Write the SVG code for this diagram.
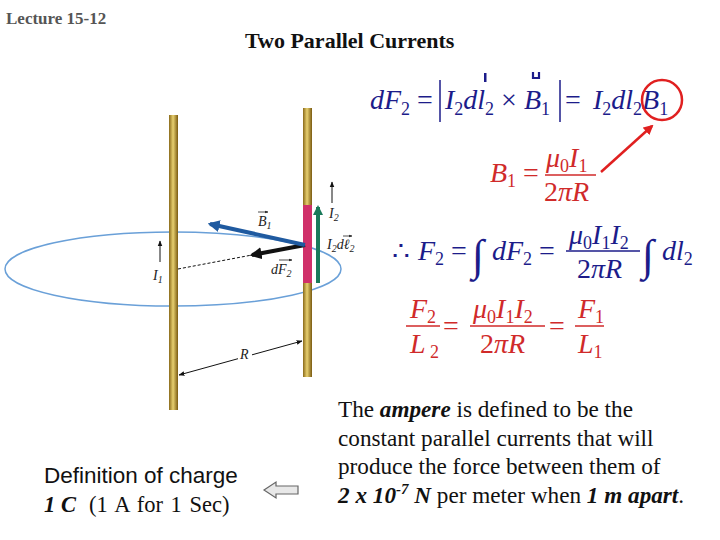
<svg xmlns="http://www.w3.org/2000/svg" width="720" height="540" viewBox="0 0 720 540">
<defs>
<style>
.t{font-family:"Liberation Serif",serif}
.m{font-family:"Liberation Serif",serif;font-style:italic;font-size:28px;fill:#1c1c8a}
.r{fill:#d02a2a}
.s{font-size:18px}
.lb{font-family:"Liberation Serif",serif;font-style:italic;font-size:14px;fill:#222}
.va{stroke:#222;stroke-width:0.8;fill:none}
</style>
<linearGradient id="rod" x1="0" x2="1" y1="0" y2="0">
<stop offset="0" stop-color="#8a6a1a"/><stop offset="0.45" stop-color="#e8d070"/><stop offset="1" stop-color="#7a5a10"/>
</linearGradient>
<marker id="ah" viewBox="0 0 10 10" refX="9" refY="5" markerWidth="6" markerHeight="6" orient="auto-start-reverse"><path d="M0,1 L10,5 L0,9 z" fill="#111"/></marker>
<marker id="ahb" viewBox="0 0 10 10" refX="8" refY="5" markerWidth="3" markerHeight="3" orient="auto"><path d="M0,0 L10,5 L0,10 z" fill="#1f5aa0"/></marker>
<marker id="ahk" viewBox="0 0 10 10" refX="8" refY="5" markerWidth="3" markerHeight="3" orient="auto"><path d="M0,0 L10,5 L0,10 z" fill="#111"/></marker>
<marker id="ahg" viewBox="0 0 10 10" refX="8" refY="5" markerWidth="2.5" markerHeight="2.5" orient="auto"><path d="M0,0 L10,5 L0,10 z" fill="#1a7a5a"/></marker>
<marker id="ahr" viewBox="0 0 10 10" refX="8" refY="5" markerWidth="4" markerHeight="4" orient="auto"><path d="M0,0 L10,5 L0,10 z" fill="#e02020"/></marker>
<marker id="tiny" viewBox="0 0 10 10" refX="9" refY="5" markerWidth="4" markerHeight="4" orient="auto"><path d="M0,1 L10,5 L0,9 z" fill="#222"/></marker>
</defs>
<rect width="720" height="540" fill="#fff"/>
<text class="t" x="6" y="24" font-size="17" font-weight="bold" fill="#555">Lecture 15-12</text>
<text class="t" x="245" y="48" font-size="22" font-weight="bold" fill="#111">Two Parallel Currents</text>

<g id="figure">
<ellipse cx="173" cy="269" rx="168" ry="37" fill="none" stroke="#6aa0d8" stroke-width="1.5"/>
<rect x="169" y="115" width="9" height="295" fill="url(#rod)"/>
<rect x="303" y="108" width="9" height="269" fill="url(#rod)"/>
<rect x="303" y="205" width="9" height="78" fill="#d0306a"/>
<line x1="178" y1="269" x2="252" y2="255" stroke="#111" stroke-dasharray="3,2"/>
<line x1="305" y1="245" x2="252" y2="255" stroke="#111" stroke-width="4" marker-end="url(#ahk)"/>
<line x1="305" y1="245" x2="210" y2="224" stroke="#1f5aa0" stroke-width="4" marker-end="url(#ahb)"/>
<line x1="318" y1="283" x2="318" y2="207" stroke="#1a7a5a" stroke-width="4" marker-end="url(#ahg)"/>
<line x1="332" y1="203" x2="332" y2="182" stroke="#111" marker-end="url(#ah)"/>
<line x1="160" y1="262" x2="160" y2="241" stroke="#111" marker-end="url(#ah)"/>
<line x1="179" y1="375" x2="302" y2="341" stroke="#111" marker-start="url(#ah)" marker-end="url(#ah)"/>
<rect x="238" y="348" width="14" height="14" fill="#fff"/>
<text class="lb" x="240" y="359">R</text>
<text class="lb" x="153" y="280">I<tspan font-size="10" dy="3">1</tspan></text>
<text class="lb" x="329" y="218">I<tspan font-size="10" dy="3">2</tspan></text>
<text class="lb" x="327" y="249">I<tspan font-size="10" dy="3">2</tspan><tspan dy="-3">dℓ</tspan><tspan font-size="10" dy="3">2</tspan></text>
<line class="va" x1="343" y1="236" x2="352" y2="236" marker-end="url(#tiny)"/>
<text class="lb" x="258" y="226">B<tspan font-size="10" dy="3">1</tspan></text>
<line class="va" x1="258" y1="212" x2="268" y2="212" marker-end="url(#tiny)"/>
<text class="lb" x="271" y="274">dF<tspan font-size="10" dy="3">2</tspan></text>
<line class="va" x1="279" y1="260" x2="292" y2="260" marker-end="url(#tiny)"/>
</g>

<g id="eq1" class="m">
<text x="370" y="109">dF<tspan class="s" dy="6" font-style="normal">2</tspan><tspan dy="-6" font-style="normal"> = </tspan></text>
<line x1="440" y1="80" x2="440" y2="122" stroke="#1c1c8a" stroke-width="1.5"/>
<text x="445" y="109">I<tspan class="s" dy="6" font-style="normal">2</tspan><tspan dy="-6">dl</tspan><tspan class="s" dy="6" font-style="normal">2</tspan><tspan dy="-6" font-style="normal"> × </tspan>B<tspan class="s" dy="6" font-style="normal">1</tspan></text>
<line x1="560" y1="80" x2="560" y2="122" stroke="#1c1c8a" stroke-width="1.5"/>
<text x="565" y="109" font-style="normal">=</text>
<text x="593" y="109">I<tspan class="s" dy="6" font-style="normal">2</tspan><tspan dy="-6">dl</tspan><tspan class="s" dy="6" font-style="normal">2</tspan><tspan dy="-6">B</tspan><tspan class="s" dy="6" font-style="normal">1</tspan></text>
<rect x="484" y="73" width="2.5" height="9" fill="#1c1c8a"/>
<path d="M533,72 v6 h6 v-6" fill="none" stroke="#1c1c8a" stroke-width="2.2"/>
</g>
<circle cx="662" cy="100" r="20" fill="none" stroke="#e02020" stroke-width="2.5"/>
<line x1="601" y1="172" x2="652" y2="126" stroke="#e02020" stroke-width="2.5" marker-end="url(#ahr)"/>

<g id="eq2" class="m r">
<text x="490" y="182">B<tspan class="s" font-style="normal" dy="5">1</tspan><tspan dy="-5" font-style="normal"> =</tspan></text>
<text x="546" y="167">μ<tspan class="s" font-style="normal" dy="5">0</tspan><tspan dy="-5">I</tspan><tspan class="s" font-style="normal" dy="5">1</tspan></text>
<line x1="545" y1="175" x2="596" y2="175" stroke="#d02a2a" stroke-width="1.5"/>
<text x="544" y="201"><tspan font-style="normal">2</tspan>πR</text>
</g>

<g id="eq3" class="m">
<text x="392" y="260" font-style="normal">∴</text>
<text x="418" y="260">F<tspan class="s" font-style="normal" dy="5">2</tspan><tspan dy="-5" font-style="normal"> = </tspan></text>
<text x="472" y="270" font-size="44" font-style="normal">∫</text>
<text x="492" y="260">dF<tspan class="s" font-style="normal" dy="5">2</tspan><tspan dy="-5" font-style="normal"> =</tspan></text>
<text x="569" y="244">μ<tspan class="s" font-style="normal" dy="5">0</tspan><tspan dy="-5">I</tspan><tspan class="s" font-style="normal" dy="5">1</tspan><tspan dy="-5">I</tspan><tspan class="s" font-style="normal" dy="5">2</tspan></text>
<line x1="566" y1="251" x2="640" y2="251" stroke="#1c1c8a" stroke-width="1.5"/>
<text x="577" y="278"><tspan font-style="normal">2</tspan>πR</text>
<text x="642" y="270" font-size="44" font-style="normal">∫</text>
<text x="662" y="260">dl<tspan class="s" font-style="normal" dy="5">2</tspan></text>
</g>

<g id="eq4" class="m r">
<text x="410" y="318">F<tspan class="s" font-style="normal" dy="5">2</tspan></text>
<line x1="406" y1="326" x2="440" y2="326" stroke="#d02a2a" stroke-width="1.5"/>
<text x="410" y="353">L<tspan class="s" font-style="normal" dy="5"> 2</tspan></text>
<text x="443" y="335" font-style="normal">=</text>
<text x="473" y="318">μ<tspan class="s" font-style="normal" dy="5">0</tspan><tspan dy="-5">I</tspan><tspan class="s" font-style="normal" dy="5">1</tspan><tspan dy="-5">I</tspan><tspan class="s" font-style="normal" dy="5">2</tspan></text>
<line x1="470" y1="326" x2="545" y2="326" stroke="#d02a2a" stroke-width="1.5"/>
<text x="480" y="353"><tspan font-style="normal">2</tspan>πR</text>
<text x="549" y="335" font-style="normal">=</text>
<text x="578" y="318">F<tspan class="s" font-style="normal" dy="5">1</tspan></text>
<line x1="575" y1="326" x2="604" y2="326" stroke="#d02a2a" stroke-width="1.5"/>
<text x="578" y="353">L<tspan class="s" font-style="normal" dy="5">1</tspan></text>
</g>

<g id="ampere" class="t" font-size="23.2" fill="#111">
<text x="338" y="417">The <tspan font-weight="bold" font-style="italic">ampere</tspan> is defined to be the</text>
<text x="338" y="446">constant parallel currents that will</text>
<text x="338" y="474">produce the force between them of</text>
<text x="338" y="503"><tspan font-weight="bold" font-style="italic">2 x 10<tspan font-size="15" dy="-9">-7</tspan><tspan dy="9"> N</tspan></tspan> per meter when <tspan font-weight="bold" font-style="italic">1 m apart</tspan>.</text>
</g>

<g id="charge" fill="#111">
<text x="44" y="483" font-family="Liberation Sans,sans-serif" font-size="22.5">Definition of charge</text>
<text x="44" y="512" class="t" font-size="22.5" font-weight="bold" font-style="italic">1 C</text>
<text x="89" y="512" class="t" font-size="22.5" word-spacing="2">(1 A for 1 Sec)</text>
</g>
<g id="connectors">
<path d="M264,490 L276,482 L276,486 L298,486 L298,494 L276,494 L276,498 Z" fill="#e8e8e8" stroke="#666" stroke-width="1.2"/>
</g>
</svg>
